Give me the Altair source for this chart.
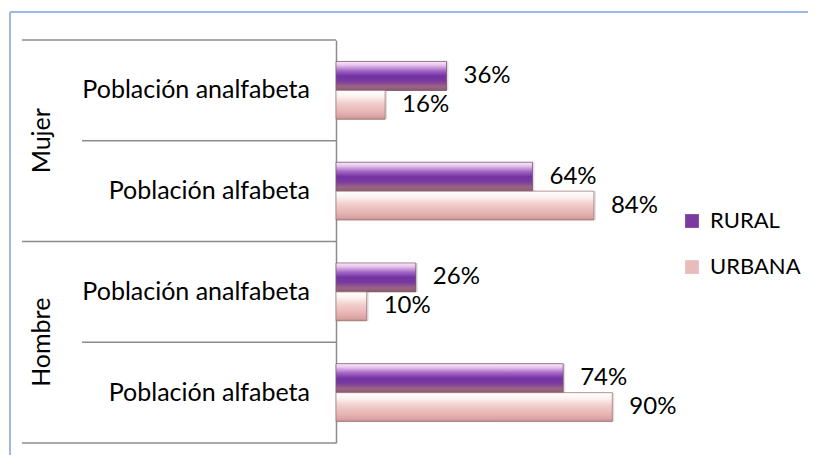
import altair as alt
import pandas as pd

# ---- data ----
grupos = ["Mujer", "Mujer", "Hombre", "Hombre"]
categorias = ["Población analfabeta", "Población alfabeta", "Población analfabeta", "Población alfabeta"]
rural = [36, 64, 26, 74]
urbana = [16, 84, 10, 90]
series = ["RURAL", "URBANA"]

FONT = "Lato"
W, H = 307, 403

filas = [f"{g} | {c}" for g, c in zip(grupos, categorias)]
rows = []
for f, g, c, r, u in zip(filas, grupos, categorias, rural, urbana):
    rows.append({"fila": f, "grupo": g, "categoria": c, "serie": "RURAL", "valor": r})
    rows.append({"fila": f, "grupo": g, "categoria": c, "serie": "URBANA", "valor": u})
df = pd.DataFrame(rows)
cats = pd.DataFrame({
    "fila": filas, "grupo": grupos, "categoria": categorias,
    "primero": [True, False, True, False],
    "ultimo": [False, False, False, True],
})

y_scale = alt.Scale(domain=filas, paddingInner=0, paddingOuter=0)
yoff_scale = alt.Scale(domain=series, paddingInner=0, paddingOuter=0.74)
x_scale = alt.Scale(domain=[0, 100], nice=False, zero=True)
y_axis = alt.Axis(labels=False, ticks=False, grid=False, title=None,
                  domainColor="#8c8c8c", domainWidth=1.5)

def Y(**kw):
    return alt.Y("fila:N", scale=y_scale, axis=y_axis, **kw)

X = alt.X("valor:Q", scale=x_scale, axis=None)
YO = alt.YOffset("serie:N", scale=yoff_scale)

# frame (light blue chart-area border)
frame_top = alt.Chart(cats).mark_rule(color="#9db9e3", strokeWidth=1.5).encode(
    x=alt.value(-326), x2=alt.value(480), y=alt.value(-28))
frame_left = alt.Chart(cats).mark_rule(color="#9db9e3", strokeWidth=1.5).encode(
    x=alt.value(-326), y=alt.value(-28), y2=alt.value(420))

# category separators
sep_inner = alt.Chart(cats).transform_filter("!datum.primero").mark_rule(
    color="#8c8c8c", strokeWidth=1.5).encode(
    y=Y(bandPosition=0), x=alt.value(-254), x2=alt.value(0))
sep_group = alt.Chart(cats).transform_filter("datum.primero").mark_rule(
    color="#8c8c8c", strokeWidth=1.5).encode(
    y=Y(bandPosition=0), x=alt.value(-314), x2=alt.value(0))
sep_bottom = alt.Chart(cats).transform_filter("datum.ultimo").mark_rule(
    color="#8c8c8c", strokeWidth=1.5).encode(
    y=Y(bandPosition=1), x=alt.value(-314), x2=alt.value(0))

# soft shadow under the bars
shadow = alt.Chart(df).mark_bar(color="#000000", opacity=0.12, yOffset=3, xOffset=2).encode(
    x=X, y=Y(), yOffset=YO)

# bars (solid, carries the legend)
bars = alt.Chart(df).mark_bar().encode(
    x=X, y=Y(), yOffset=YO,
    color=alt.Color("serie:N", scale=alt.Scale(domain=series, range=["#7b3a9f", "#e8bcbb"]),
                    legend=alt.Legend(title=None, orient="none", legendX=345, legendY=170,
                                      symbolType="square", symbolSize=190, symbolStrokeWidth=0,
                                      labelFont=FONT, labelFontSize=22, labelColor="#000000",
                                      labelOffset=7, rowPadding=24)),
)

grad_rural = alt.Gradient(
    gradient="linear", x1=0, x2=0, y1=0, y2=1,
    stops=[
        alt.GradientStop(color="#fbe8f8", offset=0.0),
        alt.GradientStop(color="#e8c8ee", offset=0.12),
        alt.GradientStop(color="#a466c4", offset=0.32),
        alt.GradientStop(color="#7332a3", offset=0.5),
        alt.GradientStop(color="#7a3a9e", offset=0.68),
        alt.GradientStop(color="#9c6486", offset=0.86),
        alt.GradientStop(color="#8a5a6e", offset=1.0),
    ])
grad_urb = alt.Gradient(
    gradient="linear", x1=0, x2=0, y1=0, y2=1,
    stops=[
        alt.GradientStop(color="#ffffff", offset=0.0),
        alt.GradientStop(color="#fdf2f1", offset=0.2),
        alt.GradientStop(color="#f1cdcb", offset=0.45),
        alt.GradientStop(color="#e6b4b2", offset=0.75),
        alt.GradientStop(color="#d8a2a2", offset=0.92),
        alt.GradientStop(color="#b88888", offset=1.0),
    ])

over_r = alt.Chart(df).transform_filter("datum.serie == 'RURAL'").mark_bar(
    fill=grad_rural, stroke="#7d5a68", strokeWidth=1, strokeOpacity=0.7).encode(
    x=X, y=Y(), yOffset=YO)
over_u = alt.Chart(df).transform_filter("datum.serie == 'URBANA'").mark_bar(
    fill=grad_urb, stroke="#9a7478", strokeWidth=1, strokeOpacity=0.7).encode(
    x=X, y=Y(), yOffset=YO)

# value labels
labels = alt.Chart(df).transform_calculate(etiqueta="datum.valor + '%'").mark_text(
    align="left", baseline="middle", dx=17, font=FONT, fontSize=24, color="#000000").encode(
    x=X, y=Y(), yOffset=YO, text="etiqueta:N")

# category labels
cat_text = alt.Chart(cats).mark_text(
    align="right", baseline="middle", font=FONT, fontSize=25, color="#000000").encode(
    y=Y(), x=alt.value(-26), text="categoria:N")

grp_text = alt.Chart(cats).transform_filter("datum.primero").mark_text(
    angle=270, align="center", baseline="middle", font=FONT, fontSize=25, color="#000000").encode(
    y=Y(bandPosition=1), x=alt.value(-294), text="grupo:N")

chart = alt.layer(
    frame_top, frame_left, sep_inner, sep_group, sep_bottom,
    shadow, bars, over_r, over_u, labels, cat_text, grp_text,
).properties(
    width=W, height=H,
    autosize=alt.AutoSizeParams(type="none"),
    padding={"left": 328, "top": 32, "right": 165, "bottom": 12},
).configure_view(stroke=None)

chart.save("out.html", embed_options={"renderer": "svg", "actions": False})
